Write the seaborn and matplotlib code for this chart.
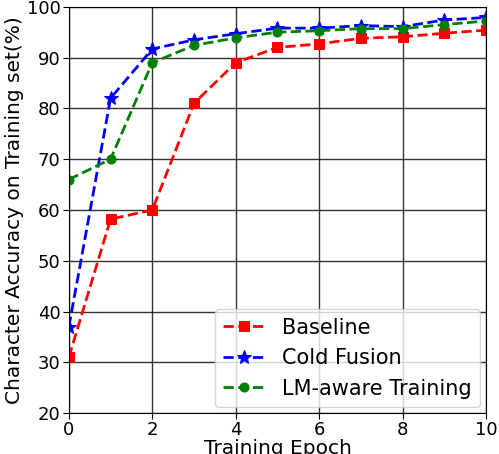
import pandas as pd
import matplotlib
matplotlib.use("Agg")
import matplotlib.pyplot as plt
import seaborn as sns

# Data
epochs = list(range(11))
baseline = [31.0, 58.2, 60.0, 81.0, 89.0, 92.0, 92.7, 93.8, 94.1, 94.8, 95.4]
cold_fusion = [37.0, 82.0, 91.7, 93.5, 94.7, 95.8, 95.8, 96.3, 96.1, 97.4, 97.9]
lm_aware = [66.0, 70.0, 89.0, 92.4, 93.9, 95.0, 95.3, 95.7, 95.7, 96.5, 97.2]

series_names = ["Baseline", "Cold Fusion", "LM-aware Training"]
colors = ["red", "blue", "green"]
markers = ["s", "*", "o"]


def build_frame():
    """Long-form table for seaborn."""
    rows = []
    for name, vals in zip(series_names, [baseline, cold_fusion, lm_aware]):
        for e, v in zip(epochs, vals):
            rows.append({"Epoch": e, "Accuracy": v, "Model": name})
    return pd.DataFrame(rows)


def plot_accuracy(df):
    sns.set_style("white")
    plt.rcParams["font.family"] = ["DejaVu Sans"]
    for k in ["text.color", "axes.labelcolor", "xtick.color", "ytick.color"]:
        plt.rcParams[k] = "black"
    fig, ax = plt.subplots(figsize=(4.99, 4.54), dpi=100)

    for name, c, m in zip(series_names, colors, markers):
        sub = df[df["Model"] == name]
        sns.lineplot(data=sub, x="Epoch", y="Accuracy", ax=ax, color=c,
                     marker=m, markersize=10 if m == "*" else 6.5,
                     markeredgecolor=c, linestyle="--", linewidth=2,
                     label=name)

    ax.set_xlim(0, 10)
    ax.set_ylim(20, 100)
    ax.set_xticks(range(0, 11, 2))
    ax.set_yticks(range(20, 101, 10))
    ax.tick_params(labelsize=13, direction="out", length=4, pad=2,
                   left=True, bottom=True)
    ax.grid(True, color="black", linewidth=1, alpha=0.8)
    for s in ax.spines.values():
        s.set_color("black")
    ax.set_xlabel("Training Epoch", fontsize=14.5, labelpad=0)
    ax.set_ylabel("Character Accuracy on Training set(%)", fontsize=14.5, labelpad=2)
    ax.legend(loc="lower right", fontsize=15, handlelength=2.0, borderaxespad=0.3)

    fig.subplots_adjust(left=0.138, right=0.974, top=0.985, bottom=0.09)
    fig.savefig("out.png", dpi=100)


if __name__ == "__main__":
    df = build_frame()
    plot_accuracy(df)
